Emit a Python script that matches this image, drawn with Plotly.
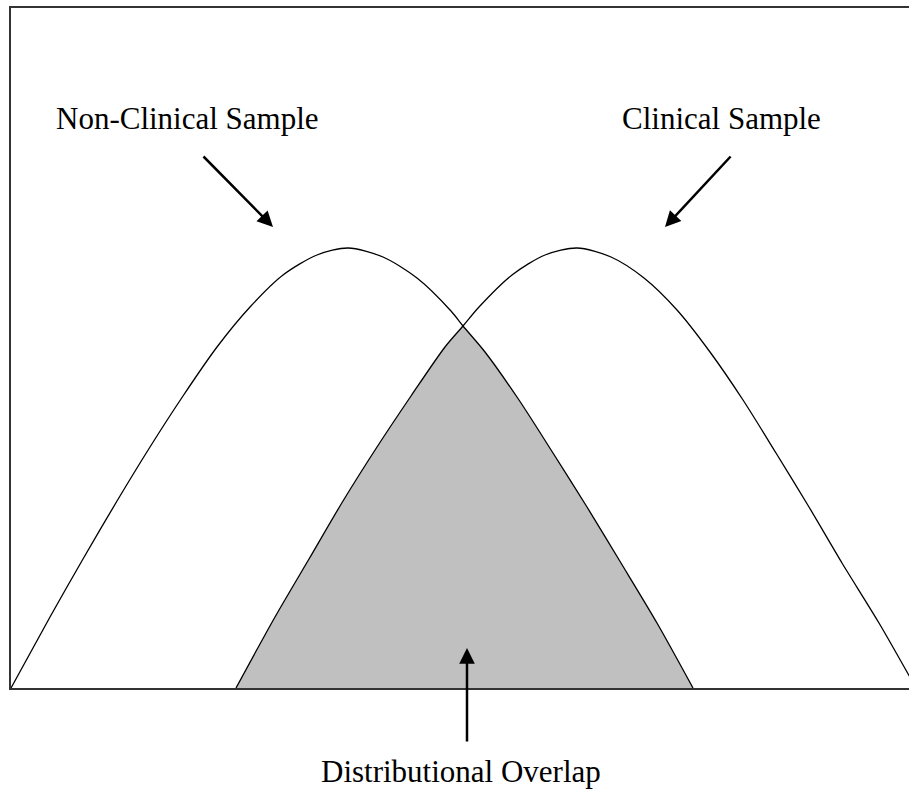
import plotly.graph_objects as go

# Values (x: score position, y: relative frequency height)
nonclinical_x = [0, 39, 72, 106, 139, 172, 206, 239, 272, 306, 337, 372, 406, 440, 452, 474, 508, 542, 576, 610, 646, 682]
nonclinical_y = [0, 71, 129, 187, 241, 292, 341, 381, 413, 433, 440, 431, 410, 377, 362, 336, 288, 235, 181, 125, 65, 0]

clinical_x = [225, 264, 298, 332, 366, 400, 434, 452, 468, 501, 534, 566, 600, 633, 666, 699, 732, 765, 798, 831, 868, 905]
clinical_y = [0, 71, 129, 187, 241, 292, 341, 362, 381, 413, 433, 440, 431, 410, 378, 336, 288, 235, 181, 125, 65, 0]

crossing_x = 452
labels = ["Non-Clinical Sample", "Clinical Sample", "Distributional Overlap"]

FONT = "Liberation Serif, Times New Roman, serif"

fig = go.Figure()

# Overlap region: clinical rising edge up to the crossing, non-clinical falling edge after it
ov_left = [(x, y) for x, y in zip(clinical_x, clinical_y) if x <= crossing_x]
ov_right = [(x, y) for x, y in zip(nonclinical_x, nonclinical_y) if x >= crossing_x]

for pts in (ov_left, ov_right):
    fig.add_trace(go.Scatter(
        x=[p[0] for p in pts], y=[p[1] for p in pts], mode="lines",
        fill="tozeroy", fillcolor="#c0c0c0",
        line=dict(width=0, shape="spline", smoothing=0.8, color="#c0c0c0"),
        hoverinfo="skip", showlegend=False))

for xs, ys, name in [(nonclinical_x, nonclinical_y, labels[0]), (clinical_x, clinical_y, labels[1])]:
    fig.add_trace(go.Scatter(
        x=xs, y=ys, mode="lines", name=name,
        line=dict(color="black", width=1.3, shape="spline", smoothing=0.8),
        showlegend=False))

# Text labels
fig.add_annotation(x=176, y=570, text=labels[0], showarrow=False,
                   font=dict(family=FONT, size=31, color="black"))
fig.add_annotation(x=710, y=570, text=labels[1], showarrow=False,
                   font=dict(family=FONT, size=31, color="black"))
fig.add_annotation(x=450, xref="x", y=-0.151, yref="paper", text=labels[2], showarrow=False,
                   font=dict(family=FONT, size=31, color="black"))

# Arrows
arrow_style = dict(text="", showarrow=True, arrowhead=2, arrowsize=1.25,
                   arrowwidth=2.5, arrowcolor="black")
fig.add_annotation(x=262, y=461, ax=-71, ay=-72, **arrow_style)
fig.add_annotation(x=654, y=461, ax=67, ay=-72, **arrow_style)
fig.add_annotation(x=456, y=40, ax=0, ay=95, **arrow_style)

fig.update_xaxes(range=[0, 898], showgrid=False, zeroline=False, showticklabels=False,
                 ticks="", showline=True, linecolor="#333333", linewidth=2, mirror=True)
fig.update_yaxes(range=[0, 680], showgrid=False, zeroline=False, showticklabels=False,
                 ticks="", showline=True, linecolor="#333333", linewidth=2, mirror=False)

fig.update_layout(
    width=909, height=789,
    margin=dict(l=11, r=0, t=8, b=101),
    plot_bgcolor="white", paper_bgcolor="white",
    showlegend=False,
)

fig.write_html("out.html", config={"displayModeBar": False},
               post_script="document.body.style.margin='0px';document.body.style.overflow='hidden';")
